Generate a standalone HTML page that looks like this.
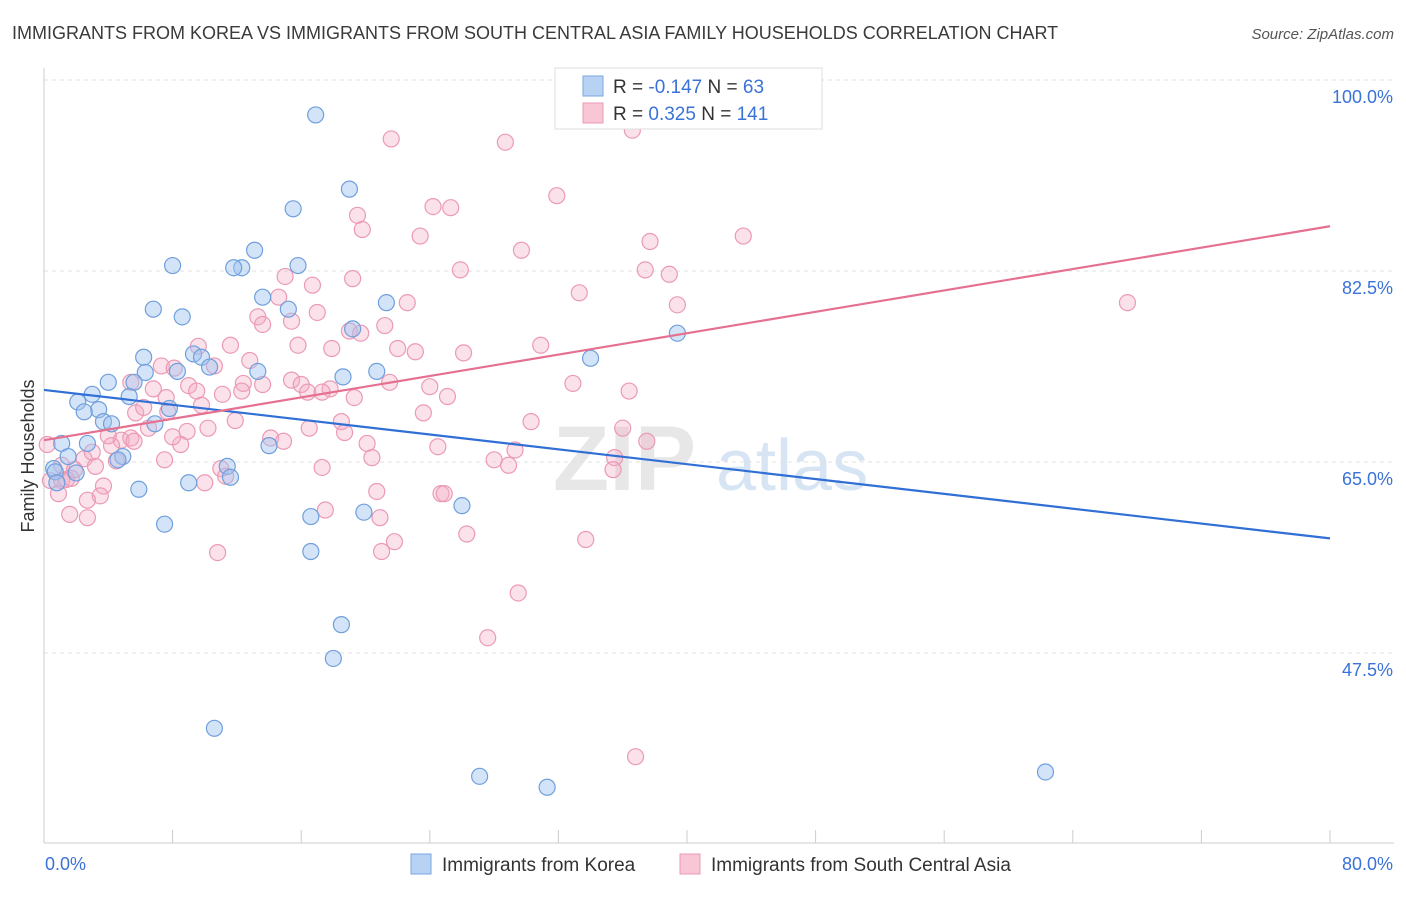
<!DOCTYPE html>
<html><head><meta charset="utf-8">
<style>
body{margin:0;background:#fff;font-family:"Liberation Sans",sans-serif;}
svg text{font-family:"Liberation Sans",sans-serif;}
</style></head>
<body>
<svg id="chart" width="1406" height="892" viewBox="0 0 1406 892" xmlns="http://www.w3.org/2000/svg">
<text x="12" y="39" font-size="18" fill="#3a3a3a">IMMIGRANTS FROM KOREA VS IMMIGRANTS FROM SOUTH CENTRAL ASIA FAMILY HOUSEHOLDS CORRELATION CHART</text>
<text x="1394" y="39" font-size="15" fill="#555" font-style="italic" text-anchor="end">Source: ZipAtlas.com</text>
<g>
<text x="553" y="490" font-size="92" fill="#d8d8d8" font-family="Liberation Serif" font-weight="bold" opacity="0.6">ZIP</text>
<text x="716" y="490" font-size="72" fill="#bcd3ee" opacity="0.6">atlas</text>
</g>
<g id="grid"></g>
<g id="axes"></g>
<g id="points"></g>
<g id="lines"></g>
<text transform="translate(34,456) rotate(-90)" font-size="18" fill="#333" text-anchor="middle">Family Households</text>
<g>
<rect x="555" y="68" width="267" height="61" fill="#fff" stroke="#ddd"/>
<rect x="583" y="76" width="20" height="20" fill="#b8d2f4" stroke="#7aa7e0"/>
<rect x="583" y="103" width="20" height="20" fill="#f9c6d6" stroke="#eb9ab6"/>
<text x="613" y="93" font-size="19" fill="#333">R = <tspan fill="#3a72d8">-0.147</tspan>   N =  <tspan fill="#3a72d8">63</tspan></text>
<text x="613" y="120" font-size="19" fill="#333">R =  <tspan fill="#3a72d8">0.325</tspan>   N = <tspan fill="#3a72d8">141</tspan></text>
</g>
<g>
<rect x="411" y="854" width="20" height="20" fill="#b8d2f4" stroke="#7aa7e0"/>
<text x="442" y="871" font-size="19" fill="#333">Immigrants from Korea</text>
<rect x="680" y="854" width="20" height="20" fill="#f9c6d6" stroke="#eb9ab6"/>
<text x="711" y="871" font-size="19" fill="#333">Immigrants from South Central Asia</text>
</g>
</svg>
<script>
const yTicks=[100,82.5,65,47.5];
const yTickLabels=["100.0%","82.5%","65.0%","47.5%"];
const xTickLabels=["0.0%","80.0%"];
const koreaX=[16.9,19.0,15.5,13.1,12.3,8.0,11.8,15.8,13.6,15.2,6.8,8.6,21.3,19.2,39.4,34.0,6.2,9.3,9.8,10.3,6.3,8.3,13.3,20.7,18.6,5.6,4.0,3.0,2.1,5.3,7.8,3.4,2.5,3.7,4.2,6.9,1.1,2.7,14.0,4.9,4.6,1.5,0.6,11.4,11.6,0.7,2.0,0.8,5.9,9.0,26.0,19.9,16.6,7.5,16.6,18.5,18.0,10.6,27.1,31.3,62.3,39.3];
const koreaY=[96.8,90.0,88.2,84.4,82.8,83.0,82.8,83.0,80.1,79.0,79.0,78.3,79.6,77.2,76.8,74.5,74.6,74.9,74.6,73.7,73.2,73.3,73.3,73.3,72.8,72.3,72.3,71.2,70.5,71.0,69.9,69.8,69.6,68.7,68.5,68.5,66.7,66.7,66.5,65.5,65.2,65.5,64.4,64.6,63.6,64.1,64.0,63.1,62.5,63.1,61.0,60.4,60.0,59.3,56.8,50.1,47.0,40.6,36.2,35.2,36.6,100];
const scaX=[21.6,28.7,36.6,41.7,31.9,24.2,25.3,19.5,19.8,23.4,37.7,43.5,29.7,25.9,37.4,38.9,15.0,16.7,19.2,33.3,14.6,67.4,22.6,39.4,17.0,13.3,13.6,15.4,19.0,21.2,19.7,11.6,15.8,17.9,22.0,23.1,26.1,30.9,9.6,12.8,7.3,8.1,10.6,9.0,11.1,6.8,9.5,5.4,12.4,12.3,13.6,15.4,16.0,17.8,16.4,17.3,21.5,24.0,25.1,32.9,36.4,19.3,7.6,9.8,5.7,6.2,7.7,23.6,30.3,11.9,10.2,16.5,18.5,18.7,4.8,5.4,6.5,8.9,8.5,8.0,14.1,14.9,20.1,24.5,29.3,36.0,37.5,0.2,4.2,5.6,4.0,20.4,35.5,35.4,28.0,28.9,2.5,3.2,0.4,1.1,1.4,1.7,3.7,11.0,17.3,11.3,10.0,0.9,3.5,2.7,1.6,2.7,20.7,17.5,20.9,24.7,24.9,26.3,21.8,21.0,10.8,33.7,29.5,27.6,36.8,3.0,1.1,4.5,1.9,7.5];
const scaY=[94.6,94.3,95.4,96.8,89.4,88.4,88.3,87.6,86.3,85.7,85.2,85.7,84.4,82.6,82.6,82.2,82.0,81.2,81.8,80.5,80.1,79.6,79.6,79.4,78.7,78.3,77.6,77.9,77.0,77.5,76.8,75.7,75.7,75.4,75.4,75.1,75.0,75.7,75.6,74.3,73.8,73.6,73.8,72.0,71.2,71.7,71.5,72.3,72.2,71.5,72.1,72.5,72.1,71.7,71.4,71.4,72.3,71.9,71.0,72.2,71.5,70.9,70.9,70.2,69.5,70.0,69.6,69.5,68.7,68.8,68.1,68.1,68.7,67.7,67.0,67.2,68.1,67.8,66.6,67.3,67.2,66.9,66.7,66.4,66.1,68.1,66.9,66.6,66.5,66.9,67.4,65.4,65.4,64.3,65.2,64.7,65.3,64.6,63.3,63.3,63.4,63.5,62.8,64.4,64.5,63.7,63.1,62.1,61.9,61.5,60.2,59.9,62.3,60.6,59.9,62.1,62.1,58.4,57.7,56.8,56.7,57.9,53.0,48.9,38.0,65.9,64.7,65.1,64.3,65.2];
const koreaTrend=[71.6,58.0];
const scaTrend=[67.0,86.6];

const NS="http://www.w3.org/2000/svg";
const X0=44,X1=1330;
function xs(v){return X0+(v/80)*(X1-X0);}
function ys(v){return 80+(100-v)*(191/17.5);}
function mk(tag,attrs,parent){const e=document.createElementNS(NS,tag);for(const k in attrs)e.setAttribute(k,attrs[k]);parent.appendChild(e);return e;}
const grid=document.getElementById('grid'),axes=document.getElementById('axes'),pts=document.getElementById('points'),lines=document.getElementById('lines');
yTicks.forEach((t,i)=>{
  const l=mk('line',{x1:X0,x2:1394,y1:ys(t),y2:ys(t),stroke:'#e2e2e2','stroke-dasharray':'4,4'},grid);
  
  
  const tx=mk('text',{x:1393,y:ys(t)+23,'font-size':18,fill:'#3a72d8','text-anchor':'end'},axes);
  tx.textContent=yTickLabels[i];
  
  
});
const ax=mk('line',{x1:X0,x2:X0,y1:68,y2:843,stroke:'#ccc'},axes);


const bx=mk('line',{x1:X0,x2:1394,y1:843,y2:843,stroke:'#ccc'},axes);


for(let i=0;i<=10;i++){
  const t=mk('line',{x1:xs(i*8),x2:xs(i*8),y1:830,y2:843,stroke:'#ccc'},axes);
  
  
}
const xl0=mk('text',{x:45,y:870,'font-size':18,fill:'#3a72d8'},axes);xl0.textContent=xTickLabels[0];


const xl1=mk('text',{x:1393,y:870,'font-size':18,fill:'#3a72d8','text-anchor':'end'},axes);xl1.textContent=xTickLabels[1];


scaX.forEach((v,i)=>{
  const c=mk('circle',{cx:xs(v),cy:ys(scaY[i]),r:8,fill:'rgba(244,170,196,0.35)',stroke:'#eb9ab6','stroke-width':1.2},pts);
  
  
});
koreaX.forEach((v,i)=>{
  const c=mk('circle',{cx:xs(v),cy:ys(koreaY[i]),r:8,fill:'rgba(160,196,240,0.45)',stroke:'#6f9fdc','stroke-width':1.2},pts);
  
  
});
const kl=mk('line',{x1:xs(0),x2:xs(80),y1:ys(koreaTrend[0]),y2:ys(koreaTrend[1]),stroke:'#2f6fd6','stroke-width':2.2},lines);


const sl=mk('line',{x1:xs(0),x2:xs(80),y1:ys(scaTrend[0]),y2:ys(scaTrend[1]),stroke:'#e5708f','stroke-width':2.2},lines);


</script>
</body></html>
